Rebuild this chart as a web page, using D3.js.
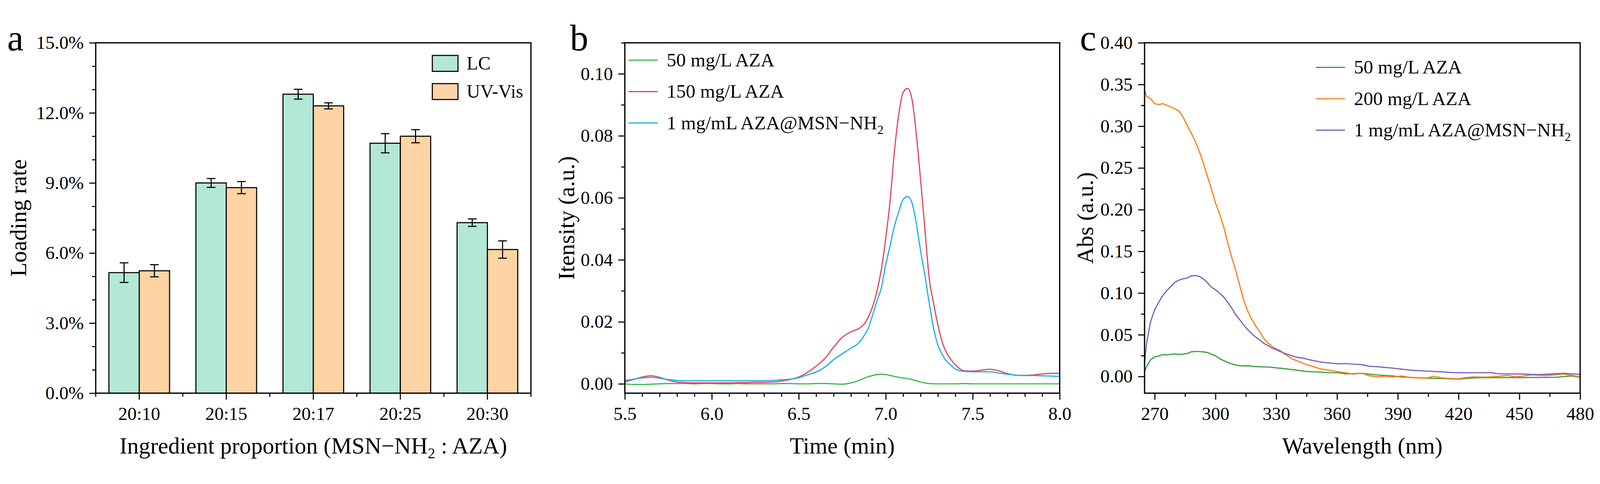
<!DOCTYPE html>
<html>
<head>
<meta charset="utf-8">
<script src="https://cdn.jsdelivr.net/npm/d3@7"></script>
<style>
  html, body { margin: 0; padding: 0; width: 100%; height: 100%; background: #fff; overflow: hidden; }
  svg { display: block; width: 100vw; height: 100vh; }
  text { font-family: "Liberation Serif", "Times New Roman", serif; fill: #000; }
</style>
</head>
<body>
<svg id="fig" viewBox="0 0 4430 1239" preserveAspectRatio="xMidYMid meet"></svg>
<script>
// ---- panel a: loading rate (%)
var categories = ["20:10", "20:15", "20:17", "20:25", "20:30"];
var barSeries = ["LC", "UV-Vis"];
var lcMean = [5.16, 9.0, 12.8, 10.7, 7.3];
var lcErr  = [0.42, 0.19, 0.21, 0.41, 0.16];
var uvMean = [5.24, 8.8, 12.3, 11.0, 6.15];
var uvErr  = [0.26, 0.26, 0.13, 0.28, 0.37];
var rateTicks = [0, 3, 6, 9, 12, 15];

// ---- panel b: chromatograms
var timeMin = [5.50, 5.55, 5.60, 5.65, 5.70, 5.75, 5.80, 5.85, 5.90, 5.95, 6.00, 6.05, 6.10, 6.15,
  6.20, 6.25, 6.30, 6.35, 6.40, 6.45, 6.50, 6.55, 6.60, 6.65, 6.70, 6.75, 6.80, 6.85,
  6.875, 6.90, 6.925, 6.95, 6.975, 7.00, 7.025, 7.05, 7.075, 7.10, 7.125, 7.15, 7.175, 7.20,
  7.225, 7.25, 7.275, 7.30, 7.325, 7.35, 7.375, 7.40,
  7.45, 7.50, 7.55, 7.60, 7.65, 7.70, 7.75, 7.80, 7.85, 7.90, 7.95, 8.00];
var lc50 = [0.0000, -0.0002, -0.0002, -0.0001, 0.0000, 0.0001, 0.0001, 0.0001, 0.0000, 0.0001, 0.0001, 0.0000, 0.0000, 0.0001,
  0.0000, 0.0000, 0.0000, 0.0000, 0.0001, 0.0001, 0.0000, 0.0000, 0.0001, 0.0001, 0.0000, -0.0001, 0.0003, 0.0012,
  0.0018, 0.0023, 0.0027, 0.0030, 0.0031, 0.0030, 0.0027, 0.0024, 0.0021, 0.0019, 0.0017, 0.0014, 0.0010, 0.0006,
  0.0003, 0.0001, 0.0000, 0.0000, 0.0000, 0.0000, 0.0000, 0.0000,
  0.0001, 0.0000, 0.0000, 0.0000, 0.0000, 0.0000, 0.0000, 0.0000, 0.0000, 0.0000, 0.0000, 0.0000];
var lc150 = [0.0007, 0.0014, 0.0022, 0.0026, 0.0021, 0.0012, 0.0006, 0.0004, 0.0003, 0.0003, 0.0003, 0.0003, 0.0003, 0.0004,
  0.0004, 0.0005, 0.0005, 0.0006, 0.0009, 0.0014, 0.0022, 0.0037, 0.0057, 0.0082, 0.0118, 0.0150, 0.0168, 0.0180,
  0.0192, 0.0215, 0.0250, 0.0300, 0.0370, 0.0470, 0.0590, 0.0750, 0.0870, 0.0940, 0.0953, 0.0920, 0.0810, 0.0660,
  0.0500, 0.0340, 0.0260, 0.0190, 0.0134, 0.0100, 0.0078, 0.0062,
  0.0042, 0.0041, 0.0044, 0.0047, 0.0042, 0.0033, 0.0028, 0.0027, 0.0029, 0.0032, 0.0034, 0.0034];
var lcMsn = [0.0011, 0.0015, 0.0019, 0.0021, 0.0018, 0.0014, 0.0011, 0.0010, 0.0010, 0.0010, 0.0010, 0.0010, 0.0010, 0.0010,
  0.0010, 0.0010, 0.0010, 0.0011, 0.0013, 0.0015, 0.0020, 0.0029, 0.0038, 0.0054, 0.0078, 0.0097, 0.0115, 0.0135,
  0.0155, 0.0180, 0.0223, 0.0268, 0.0310, 0.0385, 0.0445, 0.0509, 0.0555, 0.0595, 0.0604, 0.0585, 0.0520, 0.0430,
  0.0350, 0.0260, 0.0180, 0.0125, 0.0095, 0.0073, 0.0060, 0.0048,
  0.0040, 0.0039, 0.0039, 0.0039, 0.0035, 0.0031, 0.0028, 0.0027, 0.0027, 0.0026, 0.0025, 0.0024];
var timeTicks = [5.5, 6.0, 6.5, 7.0, 7.5, 8.0];
var intensityTicks = [0, 0.02, 0.04, 0.06, 0.08, 0.10];

// ---- panel c: UV-Vis spectra
var wavelength = [265, 266, 268, 270, 272, 274, 276, 278, 280, 282, 284, 286, 288, 290, 292, 294, 296, 298, 300,
  302, 304, 306, 308, 310, 312, 314, 316, 318, 320, 322, 324, 326, 328, 330, 332, 334, 336, 338, 340,
  344, 348, 352, 356, 360, 364, 368, 372, 376, 380, 384, 388, 392, 396, 400, 404, 408, 412, 416, 420,
  424, 428, 432, 436, 440, 444, 448, 452, 456, 460, 464, 468, 472, 476, 480];
var uv50 = [0.0059, 0.0120, 0.0200, 0.0235, 0.0245, 0.0262, 0.0259, 0.0265, 0.0270, 0.0263, 0.0268, 0.0275, 0.0295, 0.0300,
  0.0299, 0.0295, 0.0287, 0.0268, 0.0248, 0.0215, 0.0190, 0.0168, 0.0152, 0.0137, 0.0129, 0.0128, 0.0129, 0.0122,
  0.0118, 0.0116, 0.0114, 0.0113, 0.0110, 0.0103, 0.0099, 0.0094, 0.0088, 0.0082, 0.0076,
  0.0062, 0.0056, 0.0053, 0.0045, 0.0045, 0.0032, 0.0034, 0.0037, 0.0028, 0.0018, 0.0012, 0.0005, -0.0006, -0.0010,
  -0.0015, -0.0020, -0.0022, -0.0025, -0.0028, -0.0032, -0.0024, -0.0016, -0.0014, -0.0014, -0.0014, -0.0013, -0.0014,
  -0.0014, -0.0012, -0.0012, -0.0011, -0.0010, 0.0000, 0.0006, -0.0010];
var uv200 = [0.343, 0.336, 0.333, 0.327, 0.326, 0.327, 0.325, 0.323, 0.321, 0.318, 0.311, 0.301, 0.292, 0.282,
  0.270, 0.256, 0.240, 0.225, 0.208, 0.195, 0.180, 0.161, 0.143, 0.127, 0.109, 0.091, 0.078, 0.068,
  0.060, 0.053, 0.045, 0.040, 0.036, 0.033, 0.031, 0.027, 0.024, 0.021, 0.019,
  0.0150, 0.0120, 0.0090, 0.0075, 0.0058, 0.0045, 0.0028, 0.0040, 0.0008, -0.0005, 0.0002, -0.0005, 0.0006, -0.0012,
  -0.0018, -0.0020, 0.0003, -0.0018, -0.0024, -0.0028, -0.0012, -0.0006, -0.0008, -0.0005, 0.0002, 0.0013, -0.0004,
  0.0005, 0.0020, 0.0014, 0.0012, 0.0022, 0.0030, 0.0012, -0.0006];
var uvMsn = [0.0165, 0.040, 0.066, 0.080, 0.089, 0.097, 0.103, 0.108, 0.113, 0.1155, 0.117, 0.118, 0.1205, 0.121,
  0.120, 0.117, 0.1125, 0.107, 0.104, 0.100, 0.0955, 0.089, 0.082, 0.074, 0.068, 0.0615, 0.056, 0.051,
  0.047, 0.0435, 0.0395, 0.037, 0.034, 0.032, 0.0298, 0.0278, 0.0262, 0.0245, 0.0232,
  0.0215, 0.0192, 0.0173, 0.0162, 0.0152, 0.0155, 0.0148, 0.0143, 0.0122, 0.0117, 0.0108, 0.0098, 0.0088, 0.0076,
  0.0070, 0.0065, 0.0060, 0.0055, 0.0048, 0.0046, 0.0044, 0.0045, 0.0046, 0.0047, 0.0031, 0.0031, 0.0030,
  0.0029, 0.0025, 0.0022, 0.0028, 0.0033, 0.0037, 0.0030, 0.0025];
var wlTicks = [270, 300, 330, 360, 390, 420, 450, 480];
var absTicks = [0, 0.05, 0.10, 0.15, 0.20, 0.25, 0.30, 0.35, 0.40];

var plotTop = 68, plotBottom = 1038;
var svg = d3.select("#fig");
svg.append("rect").attr("width", 4430).attr("height", 1239).attr("fill", "#fff");

function axisStyle(g, fontSize) {
  g.select(".domain").remove();
  g.selectAll(".tick line").attr("stroke", "#000").attr("stroke-width", 3);
  g.selectAll(".tick text").attr("font-size", fontSize).attr("fill", "#000")
    .attr("font-family", "Liberation Serif, serif");
}

// frame, left ticks and tick labels shared by every panel
function drawFrame(x0, x1, y, yMajor, yMinor, yFmt) {
  var left = svg.append("g").attr("transform", "translate(" + x0 + ",0)");
  left.call(d3.axisLeft(y).tickValues(yMajor).tickSize(18).tickPadding(15).tickFormat(yFmt));
  axisStyle(left, 51);
  var leftMinor = svg.append("g").attr("transform", "translate(" + x0 + ",0)");
  leftMinor.call(d3.axisLeft(y).tickValues(yMinor).tickSize(10).tickFormat(""));
  axisStyle(leftMinor, 51);
  svg.append("rect").attr("x", x0).attr("y", plotTop).attr("width", x1 - x0).attr("height", plotBottom - plotTop)
    .attr("fill", "none").attr("stroke", "#000").attr("stroke-width", 3.5);
}

function drawBottom(axis, minorAxis) {
  var g = svg.append("g").attr("transform", "translate(0," + plotBottom + ")").call(axis);
  axisStyle(g, 51);
  g.selectAll(".tick text").attr("y", 74).attr("dy", null);
  if (minorAxis) {
    var m = svg.append("g").attr("transform", "translate(0," + plotBottom + ")").call(minorAxis);
    axisStyle(m, 51);
  }
}

function yTitle(x, label) {
  svg.append("text").attr("transform", "translate(" + x + "," + ((plotTop + plotBottom) / 2) + ") rotate(-90)")
    .attr("text-anchor", "middle").attr("font-size", 64).text(label);
}

function xTitle(x, label) {
  svg.append("text").attr("x", x).attr("y", 1205).attr("text-anchor", "middle")
    .attr("font-size", 64).text(label);
}

function panelLetter(x, s) {
  svg.append("text").attr("x", x).attr("y", 89).attr("font-size", 102).text(s);
}

function addSub(textSel, base, sub) {
  textSel.append("tspan").text(base);
  textSel.append("tspan").attr("font-size", "0.65em").attr("dy", 13).text(sub);
}

// ================= panel a =================
var ax0 = 265, ax1 = 1470;
var xa = d3.scaleBand().domain(categories).range([ax0, ax1]);
var xaInner = d3.scaleBand().domain(barSeries).range([0, xa.bandwidth()]).paddingOuter(0.435);
var ya = d3.scaleLinear().domain([0, 15]).range([plotBottom, plotTop]);
var barColor = { "LC": "#b3e8d6", "UV-Vis": "#fed4a5" };

var barRows = [];
categories.forEach(function(c, i) {
  barRows.push({ cat: c, s: "LC", v: lcMean[i], e: lcErr[i] });
  barRows.push({ cat: c, s: "UV-Vis", v: uvMean[i], e: uvErr[i] });
});

svg.selectAll(".bar").data(barRows).enter().append("rect")
  .attr("class", "bar")
  .attr("x", function(d) { return xa(d.cat) + xaInner(d.s); })
  .attr("y", function(d) { return ya(d.v); })
  .attr("width", xaInner.bandwidth())
  .attr("height", function(d) { return ya(0) - ya(d.v); })
  .attr("fill", function(d) { return barColor[d.s]; })
  .attr("stroke", "#000").attr("stroke-width", 3);

var err = svg.selectAll(".err").data(barRows).enter().append("g").attr("class", "err")
  .attr("stroke", "#000").attr("stroke-width", 3);
err.append("line")
  .attr("x1", function(d) { return xa(d.cat) + xaInner(d.s) + xaInner.bandwidth() / 2; })
  .attr("x2", function(d) { return xa(d.cat) + xaInner(d.s) + xaInner.bandwidth() / 2; })
  .attr("y1", function(d) { return ya(d.v - d.e); })
  .attr("y2", function(d) { return ya(d.v + d.e); });
[-1, 1].forEach(function(sign) {
  err.append("line")
    .attr("x1", function(d) { return xa(d.cat) + xaInner(d.s) + xaInner.bandwidth() / 2 - 12; })
    .attr("x2", function(d) { return xa(d.cat) + xaInner(d.s) + xaInner.bandwidth() / 2 + 12; })
    .attr("y1", function(d) { return ya(d.v + sign * d.e); })
    .attr("y2", function(d) { return ya(d.v + sign * d.e); });
});

drawFrame(ax0, ax1, ya, rateTicks, [1, 2, 4, 5, 7, 8, 10, 11, 13, 14],
  function(d) { return d.toFixed(1) + "%"; });
drawBottom(d3.axisBottom(xa).tickSize(18).tickSizeOuter(0), null);
// minor ticks on the category boundaries
svg.append("g").selectAll("line").data(categories.map(function(c) { return xa(c); }).concat([ax1]))
  .enter().append("line")
  .attr("x1", function(d) { return d; }).attr("x2", function(d) { return d; })
  .attr("y1", plotBottom).attr("y2", plotBottom + 10)
  .attr("stroke", "#000").attr("stroke-width", 3);

yTitle(72, "Loading rate");
var xta = svg.append("text").attr("x", (ax0 + ax1) / 2).attr("y", 1205)
  .attr("text-anchor", "middle").attr("font-size", 64);
addSub(xta, "Ingredient proportion (MSN\u2212NH", "2");
xta.append("tspan").attr("dy", -13).text(" : AZA)");
panelLetter(20, "a");

var legA = svg.selectAll(".lega").data(barSeries).enter().append("g").attr("class", "lega")
  .attr("transform", function(d, i) { return "translate(1197," + (103 + i * 78) + ")"; });
legA.append("rect").attr("width", 71).attr("height", 44)
  .attr("fill", function(d) { return barColor[d]; }).attr("stroke", "#000").attr("stroke-width", 3);
legA.append("text").attr("x", 95).attr("y", 39).attr("font-size", 52).text(function(d) { return d; });

// ================= line panels =================
function linePanel(cfg) {
  var x = d3.scaleLinear().domain(cfg.xDomain).range([cfg.x0, cfg.x1]);
  var y = d3.scaleLinear().domain(cfg.yDomain).range([plotBottom, plotTop]);
  var line = d3.line()
    .x(function(d) { return x(d[0]); })
    .y(function(d) { return y(d[1]); })
    .curve(cfg.curve);
  var plot = svg.append("g");
  cfg.series.forEach(function(s) {
    plot.append("path")
      .datum(cfg.xs.map(function(t, i) { return [t, s.values[i]]; }))
      .attr("fill", "none").attr("stroke", s.color).attr("stroke-width", 3.2)
      .attr("stroke-linejoin", "round").attr("d", line);
  });
  drawFrame(cfg.x0, cfg.x1, y, cfg.yMajor, cfg.yMinor, cfg.yFmt);
  drawBottom(d3.axisBottom(x).tickValues(cfg.xMajor).tickSize(18).tickFormat(cfg.xFmt),
    d3.axisBottom(x).tickValues(cfg.xMinor).tickSize(10).tickFormat(""));

  var leg = svg.selectAll(".leg" + cfg.id).data(cfg.series).enter().append("g")
    .attr("transform", function(d, i) { return "translate(" + cfg.legX + "," + (cfg.legY + i * 87) + ")"; });
  leg.append("line").attr("x1", 0).attr("x2", 81).attr("y1", 0).attr("y2", 0)
    .attr("stroke", function(d) { return d.color; }).attr("stroke-width", 3.2);
  leg.each(function(d) {
    var t = d3.select(this).append("text").attr("x", 106).attr("y", 17).attr("font-size", 53);
    if (d.sub) addSub(t, d.name, d.sub); else t.text(d.name);
  });
}

linePanel({
  id: "b", x0: 1730, x1: 2934,
  xDomain: [5.5, 8.0], yDomain: [-0.003, 0.11],
  xs: timeMin,
  series: [
    { name: "50 mg/L AZA", values: lc50, color: "#3cb44b" },
    { name: "150 mg/L AZA", values: lc150, color: "#e0445a" },
    { name: "1 mg/mL AZA@MSN\u2212NH", sub: "2", values: lcMsn, color: "#19b0e6" }
  ],
  curve: d3.curveMonotoneX,
  xMajor: timeTicks, xMinor: d3.range(56, 80).filter(function(k) { return k % 5 !== 0; }).map(function(k) { return k / 10; }),
  xFmt: d3.format(".1f"),
  yMajor: intensityTicks, yMinor: [0.01, 0.03, 0.05, 0.07, 0.09, 0.11],
  yFmt: d3.format(".2f"),
  legX: 1740, legY: 116
});
yTitle(1590, "Itensity (a.u.)");
xTitle(2332, "Time (min)");
panelLetter(1578, "b");

linePanel({
  id: "c", x0: 3169, x1: 4375,
  xDomain: [265, 480], yDomain: [-0.02, 0.40],
  xs: wavelength,
  series: [
    { name: "50 mg/L AZA", values: uv50, color: "#359f3a" },
    { name: "200 mg/L AZA", values: uv200, color: "#fb7c12" },
    { name: "1 mg/mL AZA@MSN\u2212NH", sub: "2", values: uvMsn, color: "#7e5cb6" }
  ],
  curve: d3.curveLinear,
  xMajor: wlTicks, xMinor: [285, 315, 345, 375, 405, 435, 465],
  xFmt: d3.format("d"),
  yMajor: absTicks, yMinor: [0.025, 0.075, 0.125, 0.175, 0.225, 0.275, 0.325, 0.375],
  yFmt: d3.format(".2f"),
  legX: 3643, legY: 136
});
yTitle(3026, "Abs (a.u.)");
xTitle(3772, "Wavelength (nm)");
panelLetter(2990, "c");
</script>
</body>
</html>
